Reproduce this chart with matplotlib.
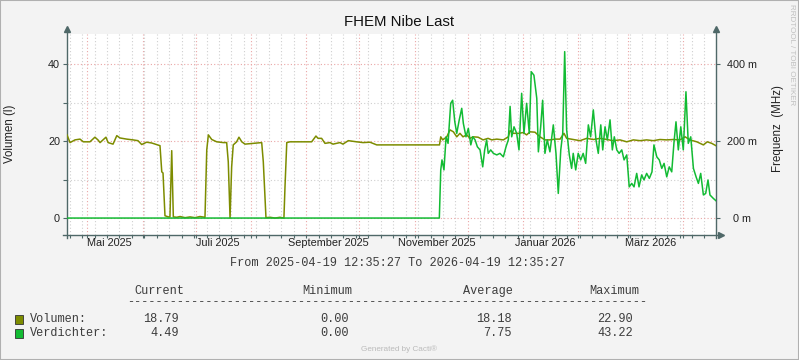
import numpy as np
import matplotlib
matplotlib.use("Agg")
import matplotlib.pyplot as plt
import matplotlib.dates as mdates
from matplotlib.patches import Rectangle
from matplotlib.lines import Line2D

# --- data (days after start, value) ---
start = np.datetime64("2025-04-19T12:35:27")
end = np.datetime64("2026-04-19T12:35:27")

vol_day = [0, 1.7, 4.5, 7.3, 9.2, 12.9, 15.7, 17.4, 18.6, 21.9, 23.1, 25.9, 28.0, 29.8,
           33.6, 37.1, 39.9, 42.0, 44.8, 47.6, 50.4, 52.3, 53.3, 54.0, 55.1, 57.0, 57.9,
           58.9, 59.8, 61.7, 63.6, 66.4, 69.2, 72.0, 74.8, 77.6, 78.6, 79.5, 81.4, 84.2,
           87.9, 89.8, 90.7, 91.7, 92.6, 93.5, 95.4, 96.7, 98.3, 100.1, 104.8, 109.5,
           110.4, 111.9, 114.2, 117.0, 119.8, 122.0, 122.6, 123.6, 125.4, 137.6, 140.0,
           141.2, 143.2, 145.1, 147.9, 149.6, 153.5, 155.2, 158.2, 162.9, 166.5, 170.4,
           172.1, 174.2, 209.5, 210.2, 211.3, 213.6, 215.4, 217.3, 219.2, 221.0, 222.7,
           224.8, 226.7, 228.3, 231.2, 234.0, 236.8, 238.9, 241.7, 245.4, 248.2, 249.2,
           251.0, 253.8, 256.6, 258.5, 260.4, 263.2, 266.0, 268.8, 271.6, 274.5, 277.3,
           279.5, 281.0, 284.8, 288.5, 292.3, 296.0, 299.8, 303.5, 307.2, 311.0, 314.8,
           318.5, 322.3, 326.0, 329.7, 333.5, 337.3, 341.0, 344.8, 347.6, 350.4, 354.2,
           357.9, 360.1, 362.6, 365.0]
vol_val = [21.6, 19.6, 20.3, 20.5, 19.8, 19.8, 21.0, 20.3, 19.6, 21.0, 19.6, 19.2, 21.4, 20.8,
           20.5, 20.3, 20.1, 19.1, 19.7, 19.5, 19.1, 18.8, 12.0, 11.7, 0.6, 0.3, 0.3,
           17.5, 0.3, 0.2, 0.4, 0.1, 0.3, 0.1, 0.4, 0.2, 17.7, 21.6, 20.4, 19.8,
           19.6, 19.6, 14.6, 0.0, 13.3, 19.0, 19.8, 21.0, 19.8, 19.2, 19.4, 19.6,
           14.6, 0.1, 0.2, 0.0, 0.2, 0.0, 8.1, 19.6, 19.8, 19.8, 21.3,
           20.7, 20.7, 19.4, 19.6, 19.2, 19.6, 19.2, 20.1, 19.8, 19.6, 19.7,
           19.4, 19.0, 19.0, 21.1, 20.3, 21.1, 22.9, 22.4, 21.1, 22.0, 21.1,
           21.6, 20.7, 21.1, 21.0, 20.3, 20.7, 20.3, 20.5, 20.3, 21.1, 22.7,
           22.0, 22.0, 22.2, 21.6, 22.4, 22.3, 21.1, 20.3, 20.3, 20.5, 20.5,
           22.0, 20.7, 20.4, 20.1, 20.7, 20.4, 20.7, 20.4, 20.1, 20.3, 19.8,
           20.3, 20.1, 20.3, 20.1, 20.4, 20.3, 20.4, 20.3, 21.1, 20.3, 19.8,
           19.0, 19.8, 19.4, 18.79]

verd_day = [0, 209.4, 210.2, 210.9, 212.0, 213.2, 214.3, 215.8, 216.9, 218.1, 219.2, 220.6,
            222.0, 222.9, 224.4, 225.7, 227.1, 228.2, 229.5, 230.8, 232.3, 233.8, 234.9,
            236.0, 236.9, 238.3, 239.8, 241.7, 243.5, 245.4, 246.9, 248.2, 249.2, 250.1,
            251.4, 252.9, 254.2, 255.7, 257.0, 258.5, 260.0, 261.1, 262.6, 264.2, 265.1,
            266.4, 267.5, 268.8, 270.1, 271.6, 273.5, 275.0, 276.3, 277.7, 278.8, 279.9,
            281.0, 282.5, 283.8, 284.7, 286.1, 287.5, 288.9, 290.3, 291.7, 293.2, 294.5,
            296.0, 297.5, 298.8, 300.2, 301.3, 302.6, 303.9, 305.4, 306.7, 307.8, 309.2,
            310.5, 312.0, 313.3, 314.8, 316.2, 317.6, 318.9, 320.4, 321.7, 323.2, 324.5,
            326.0, 327.5, 329.0, 330.1, 331.7, 333.1, 334.5, 335.8, 337.3, 338.7, 340.1,
            341.4, 342.5, 343.8, 345.2, 346.6, 348.1, 349.4, 350.8, 352.3, 353.8, 355.1,
            356.4, 357.9, 359.2, 360.5, 361.6, 363.5, 365.0]
verd_val = [0.0, 0.0, 12.5, 15.1, 12.5, 21.1, 19.4, 29.8, 30.6, 25.0, 22.0, 25.5,
            28.5, 24.6, 21.1, 23.3, 19.0, 21.1, 20.3, 18.5, 17.7, 13.3, 17.7,
            20.3, 16.8, 17.7, 16.8, 16.4, 16.8, 15.9, 18.5, 20.3, 29.0, 21.1,
            23.7, 22.0, 17.7, 32.4, 22.0, 29.8, 22.0, 38.0, 37.1, 31.1, 17.2,
            23.7, 30.6, 16.8, 20.3, 17.2, 24.2, 16.8, 6.4, 17.7, 22.0, 43.22,
            22.9, 16.4, 12.9, 16.8, 12.5, 16.8, 15.1, 16.8, 14.2, 24.2, 21.1,
            28.1, 20.3, 16.8, 24.2, 17.7, 23.7, 20.3, 25.5, 17.7, 21.1, 17.7,
            16.8, 17.7, 15.1, 16.4, 8.1, 9.0, 8.1, 11.6, 8.1, 11.2, 9.9,
            11.6, 10.3, 12.0, 19.0, 15.9, 15.1, 12.9, 14.2, 10.7, 13.3, 12.0,
            19.8, 25.0, 17.7, 23.7, 17.7, 32.8, 19.4, 21.1, 12.9, 10.7, 9.0,
            11.6, 6.0, 6.4, 9.9, 6.0, 5.1, 4.49]

month_names = ["Mai 2025", "Juli 2025", "September 2025", "November 2025",
               "Januar 2026", "März 2026"]
month_starts = ["2025-05-01", "2025-07-01", "2025-09-01", "2025-11-01",
                "2026-01-01", "2026-03-01"]
right_ticks = [0, 20, 40]
right_labels = ["0 m", "200 m", "400 m"]

legend_names = ["Volumen:", "Verdichter:"]
legend_cur = ["18.79", "4.49"]
legend_min = ["0.00", "0.00"]
legend_avg = ["18.18", "7.75"]
legend_max = ["22.90", "43.22"]

c_vol = "#7d8c00"
c_verd = "#12bb33"
c_axis = "#4f6868"


def to_dates(days):
    return start + (np.array(days) * 86400).astype("timedelta64[s]")


W, H = 799, 360
fig = plt.figure(figsize=(W / 100, H / 100), dpi=100)
fig.patch.set_facecolor("#f3f3f3")
L, R, T, B = 67, 716, 34, 235
ax = fig.add_axes([L / W, 1 - B / H, (R - L) / W, (B - T) / H])
ax.set_facecolor("white")

ax.plot(to_dates(vol_day), vol_val, color=c_vol, lw=1.1, zorder=3)
ax.plot(to_dates(verd_day), verd_val, color=c_verd, lw=1.1, zorder=4)

ax.set_xlim(start, end)
ax.set_ylim(-4.4, 47.8)

ax.xaxis.set_major_locator(mdates.MonthLocator())
ax.xaxis.set_minor_locator(mdates.WeekdayLocator(byweekday=mdates.MO))
ax.xaxis.set_major_formatter(plt.NullFormatter())
ax.set_yticks([0, 20, 40])
ax.set_yticks([10, 30], minor=True)

dot = (0, (1, 2))
ax.grid(which="major", color="#eaa6a6", linestyle=dot, lw=0.8)
ax.grid(which="minor", color="#cfcfcf", linestyle=dot, lw=0.8)
ax.set_axisbelow(True)

for s in ax.spines.values():
    s.set_visible(False)
ax.tick_params(which="both", colors=c_axis, length=3, width=0.8, labelsize=7.8,
               labelcolor="#222222", pad=2)
ax.tick_params(axis="x", which="both", length=2)
for lab in ax.get_yticklabels():
    lab.set_family("Liberation Sans")

# month labels centred in the month
for name, ms in zip(month_names, month_starts):
    xpos = np.datetime64(ms + "T00:00:00") + np.timedelta64(12 * 24 + 12, "h")
    ax.text(xpos, -0.04, name, transform=ax.get_xaxis_transform(), ha="center",
            va="center", fontsize=7.8, family="Liberation Sans", color="#222222")

# axis lines with arrows
hw, hh = R - L, B - T
ax.add_line(Line2D([0, 0], [-3 / hh, 1 + 5 / hh], color=c_axis, lw=1,
                   transform=ax.transAxes, clip_on=False))
ax.add_line(Line2D([1, 1], [-3 / hh, 1 + 5 / hh], color=c_axis, lw=1,
                   transform=ax.transAxes, clip_on=False))
ax.add_line(Line2D([-4 / hw, 1 + 5 / hw], [0, 0], color=c_axis, lw=1,
                   transform=ax.transAxes, clip_on=False))
for px, py, m in [(0, 1 + 5 / hh, "^"), (1, 1 + 5 / hh, "^"), (1 + 5 / hw, 0, ">")]:
    ax.plot(px, py, marker=m, ms=4, color=c_axis, transform=ax.transAxes,
            clip_on=False, zorder=6)

ax2 = ax.twinx()
ax2.set_ylim(ax.get_ylim())
ax2.set_yticks(right_ticks)
ax2.set_yticklabels(right_labels, family="Liberation Sans", fontsize=7.8,
                    color="#222222", ha="center")
ax2.tick_params(colors=c_axis, length=3, width=0.8, pad=16, labelcolor="#222222")
for s in ax2.spines.values():
    s.set_visible(False)


def ftext(x, y, s, **kw):
    fig.text(x / W, 1 - y / H, s, **kw)


ftext(399, 22, "FHEM Nibe Last", ha="center", va="center", fontsize=10.8,
      family="Liberation Sans", color="#111111")
ftext(10, 134, "Volumen (l)", ha="center", va="center", rotation=90, fontsize=8.3,
      family="Liberation Sans", color="#222222")
ftext(778, 129, "Frequenz  (MHz)", ha="center", va="center", rotation=90, fontsize=8.3,
      family="Liberation Sans", color="#222222")
ftext(791, 55, "RRDTOOL / TOBI OETIKER", ha="center", va="center", rotation=270,
      fontsize=5.8, family="Liberation Sans", color="#c0c0c0")

mono = dict(family="Liberation Mono", fontsize=8.6, color="#3c3c3c", va="center")
ftext(397, 263, "From 2025-04-19 12:35:27 To 2026-04-19 12:35:27", ha="center", **mono)
ftext(134, 291, "Current", ha="left", **mono)
ftext(302, 291, "Minimum", ha="left", **mono)
ftext(463, 291, "Average", ha="left", **mono)
ftext(589, 291, "Maximum", ha="left", **mono)
ftext(127, 302, "-" * 73, ha="left", **mono)
for i, col in enumerate([c_vol, c_verd]):
    y = 319 + i * 14
    fig.patches.append(Rectangle((15 / W, 1 - (y + 4.5) / H), 8 / W, 9 / H,
                                 transform=fig.transFigure, facecolor=col,
                                 edgecolor="#333333", lw=0.6))
    ftext(30, y, legend_names[i], ha="left", **mono)
    ftext(179, y, legend_cur[i], ha="right", **mono)
    ftext(349, y, legend_min[i], ha="right", **mono)
    ftext(512, y, legend_avg[i], ha="right", **mono)
    ftext(633, y, legend_max[i], ha="right", **mono)

ftext(399, 349, "Generated by Cacti®", ha="center", va="center", fontsize=5.9,
      family="Liberation Sans", color="#bbbbbb")

fig.patches.append(Rectangle((0, 0), 1, 1, transform=fig.transFigure, fill=False,
                             edgecolor="#b0b0b0", lw=1.5))

fig.savefig("out.png", dpi=100, facecolor=fig.get_facecolor())
